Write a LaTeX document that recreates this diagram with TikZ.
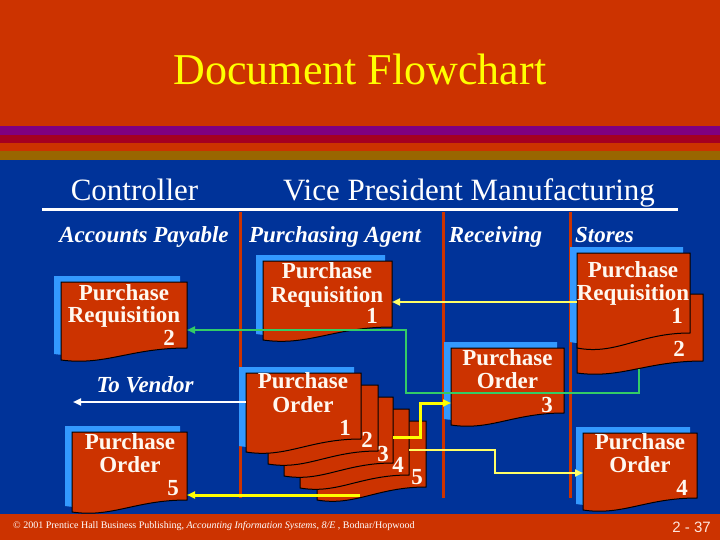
\documentclass[tikz,border=0pt]{standalone}
\usepackage{fontspec}
\setmainfont{Liberation Serif}
\newfontfamily\slidesans{Liberation Sans}
\usetikzlibrary{arrows.meta,calc}

\definecolor{bgorange}{HTML}{CC3300}
\definecolor{bgblue}{HTML}{003399}
\definecolor{stpurple}{HTML}{800080}
\definecolor{stcrimson}{HTML}{A50021}
\definecolor{stgold}{HTML}{996600}
\definecolor{shadowblue}{HTML}{3399FF}
\definecolor{docred}{HTML}{CC3300}
\definecolor{flowgreen}{HTML}{33CC66}
\definecolor{flowyellow}{HTML}{FFFF00}
\definecolor{paleyellow}{HTML}{FFFF66}
\definecolor{titleyellow}{HTML}{FFFF00}
\definecolor{lanered}{HTML}{CC3300}
\definecolor{doctextc}{HTML}{FFF8F0}
\definecolor{pagenum}{HTML}{FFE6DC}

\tikzset{
  docbody/.style={fill=docred, draw=black, line width=1pt},
  docshade/.style={fill=shadowblue},
  docanchor/.style={inner sep=0pt, outer sep=0pt, anchor=north west},
  doctext/.style={text=doctextc, font=\fontsize{23}{23}\selectfont\bfseries, inner sep=0pt, anchor=base},
  docnum/.style={doctext, anchor=base east},
  lanehead/.style={text=white, font=\fontsize{23}{23}\selectfont\bfseries\itshape, inner sep=0pt, anchor=base},
  headtext/.style={text=white, font=\fontsize{31}{31}\selectfont, inner sep=0pt, anchor=base},
  lanedivider/.style={draw=lanered, line width=3pt},
  flowarrow/.style={-{Triangle[length=8pt,width=7pt]}},
  greenflow/.style={flowarrow, draw=flowgreen, line width=2pt},
  yellowthick/.style={flowarrow, draw=flowyellow, line width=3pt},
  yellowthin/.style={flowarrow, draw=paleyellow, line width=2pt},
  whiteflow/.style={flowarrow, draw=white, line width=2pt},
}

% #1 x1, #2 y1, #3 x2, #4 y bottom right, #5 y bottom left
\newcommand\docoutline[5]{(#1,#2) -- (#3,#2) -- (#3,#4) .. controls ({#1+0.55*(#3-#1)},#4) and ({#1+0.35*(#3-#1)},{#5+0.5*(#5-#4)}) .. (#1,#5) -- cycle}
% #1 name, then geometry
\newcommand\docplain[6]{%
  \path[docbody] \docoutline{#2}{#3}{#4}{#5}{#6};
  \node[docanchor, minimum width={(#4-#2)*1pt}, minimum height={(#6-#3)*1pt}] (#1) at (#2,#3) {};
}
\newcommand\docsheet[6]{%
  \path[docshade, shift={(-7,-6)}] \docoutline{#2}{#3}{#4}{#5}{#6};
  \docplain{#1}{#2}{#3}{#4}{#5}{#6}
}

\begin{document}
\begin{tikzpicture}[x=1pt, y=-1pt]
\useasboundingbox (0,0) rectangle (720,540);
% background
\fill[bgorange] (0,0) rectangle (720,540);
\fill[stpurple] (0,126) rectangle (720,135);
\fill[stcrimson] (0,135) rectangle (720,143);
\fill[bgorange] (0,143) rectangle (720,151);
\fill[stgold] (0,151) rectangle (720,160);
\fill[bgblue] (0,160) rectangle (720,514);

% title and headings
\node[font=\fontsize{44}{44}\selectfont, text=titleyellow, anchor=base, inner sep=0pt] (title) at (360,85) {Document Flowchart};
\node[headtext] (controller) at (134.5,201) {Controller};
\node[headtext] (vpm) at (469,201) {Vice President Manufacturing};
\draw[white, line width=3pt] (42,210) -- (678,210);

\node[lanehead] (lap) at (144,243) {Accounts Payable};
\node[lanehead] (lpa) at (335,243) {Purchasing Agent};
\node[lanehead] (lrc) at (495.5,243) {Receiving};
\node[lanehead] (lst) at (604.5,243) {Stores};

% lane dividers
\draw[lanedivider] (240,212) -- (240,498);
\draw[lanedivider] (443,212) -- (443,498);
\draw[lanedivider] (570,212) -- (570,498);

% documents
\docsheet{apPR2}{61}{282}{187}{348}{360}
\docsheet{paPR1}{263}{261}{392}{327}{340}
\docplain{stPR2}{577}{294}{703}{361}{373}
\docsheet{stPR1}{577}{253}{690}{333}{348}
\docsheet{rcPO3}{451}{348}{564}{413}{425}
\docplain{paPO5}{317}{421}{426}{487}{500}
\docplain{paPO4}{300}{409}{409}{475}{488}
\docplain{paPO3}{284}{397}{393}{463}{476}
\docplain{paPO2}{268}{385}{378}{451}{464}
\docsheet{paPO1}{246}{373}{361}{439}{452}
\docsheet{apPO5}{72}{432}{187}{500}{512}
\docsheet{stPO4}{583}{433}{697}{498}{510}

% document texts
\node[doctext] (apPR2a) at (124,300) {Purchase};
\node[doctext] (apPR2b) at (124,322) {Requisition};
\node[docnum] (apPR2n) at (175,345) {2};

\node[doctext] (paPR1a) at (327,278) {Purchase};
\node[doctext] (paPR1b) at (327,302) {Requisition};
\node[docnum] (paPR1n) at (378,323) {1};

\node[doctext] (stPR1a) at (633,277) {Purchase};
\node[doctext] (stPR1b) at (633,300) {Requisition};
\node[docnum] (stPR1n) at (683,323) {1};
\node[docnum] (stPR2n) at (685,356) {2};

\node[doctext] (rcPO3a) at (507.5,365) {Purchase};
\node[doctext] (rcPO3b) at (507.5,388) {Order};
\node[docnum] (rcPO3n) at (553,412) {3};

\node[doctext] (paPO1a) at (303,388) {Purchase};
\node[doctext] (paPO1b) at (303,412) {Order};
\node[docnum] (paPO1n) at (351,435) {1};
\node[docnum] (paPO2n) at (373,447) {2};
\node[docnum] (paPO3n) at (389,461) {3};
\node[docnum] (paPO4n) at (404,472) {4};
\node[docnum] (paPO5n) at (423,484) {5};

\node[doctext] (apPO5a) at (130,449) {Purchase};
\node[doctext] (apPO5b) at (130,472) {Order};
\node[docnum] (apPO5n) at (179,495) {5};

\node[doctext] (stPO4a) at (640,449) {Purchase};
\node[doctext] (stPO4b) at (640,472) {Order};
\node[docnum] (stPO4n) at (688,495) {4};

\node[lanehead] (tovendor) at (145,392) {To Vendor};

% connectors
\coordinate (greenstart) at ($(stPR2.north west)+(62,75)$);
\coordinate (greenbend) at (406,393);
\draw[greenflow] (greenstart) |- (greenbend) |- ($(apPR2.north east)+(0,48)$);

\draw[yellowthin] ($(stPR1.north west)+(0,49)$) -- ($(paPR1.north east)+(0,41)$);

\coordinate (ybendA) at (420,403);
\draw[yellowthick] ($(paPO3.north east)+(0,40)$) -| (ybendA) -- ($(rcPO3.north west)+(0,55)$);

\coordinate (ybendB) at (495,473);
\draw[yellowthin] ($(paPO4.north east)+(0,41)$) -| (ybendB) -- ($(stPO4.north west)+(0,40)$);

\coordinate (ystartfive) at ($(paPO5.north west)+(43,74)$);
\draw[yellowthick] (ystartfive) -- ($(apPO5.north east)+(0,63)$);

\coordinate (vendor) at (73,402);
\draw[whiteflow] ($(paPO1.north west)+(0,29)$) -- (vendor);

% footer
\node[anchor=base west, text=white, font=\fontsize{10}{10}\selectfont, inner sep=0pt] (footer) at (13,528)
  {\textcopyright{} 2001 Prentice Hall Business Publishing, \textit{Accounting Information Systems, 8/E} , Bodnar/Hopwood};
\node[anchor=base east, text=pagenum, font=\slidesans\fontsize{15}{15}\selectfont, inner sep=0pt] (pageno) at (711,532) {2 - 37};
\end{tikzpicture}
\end{document}
